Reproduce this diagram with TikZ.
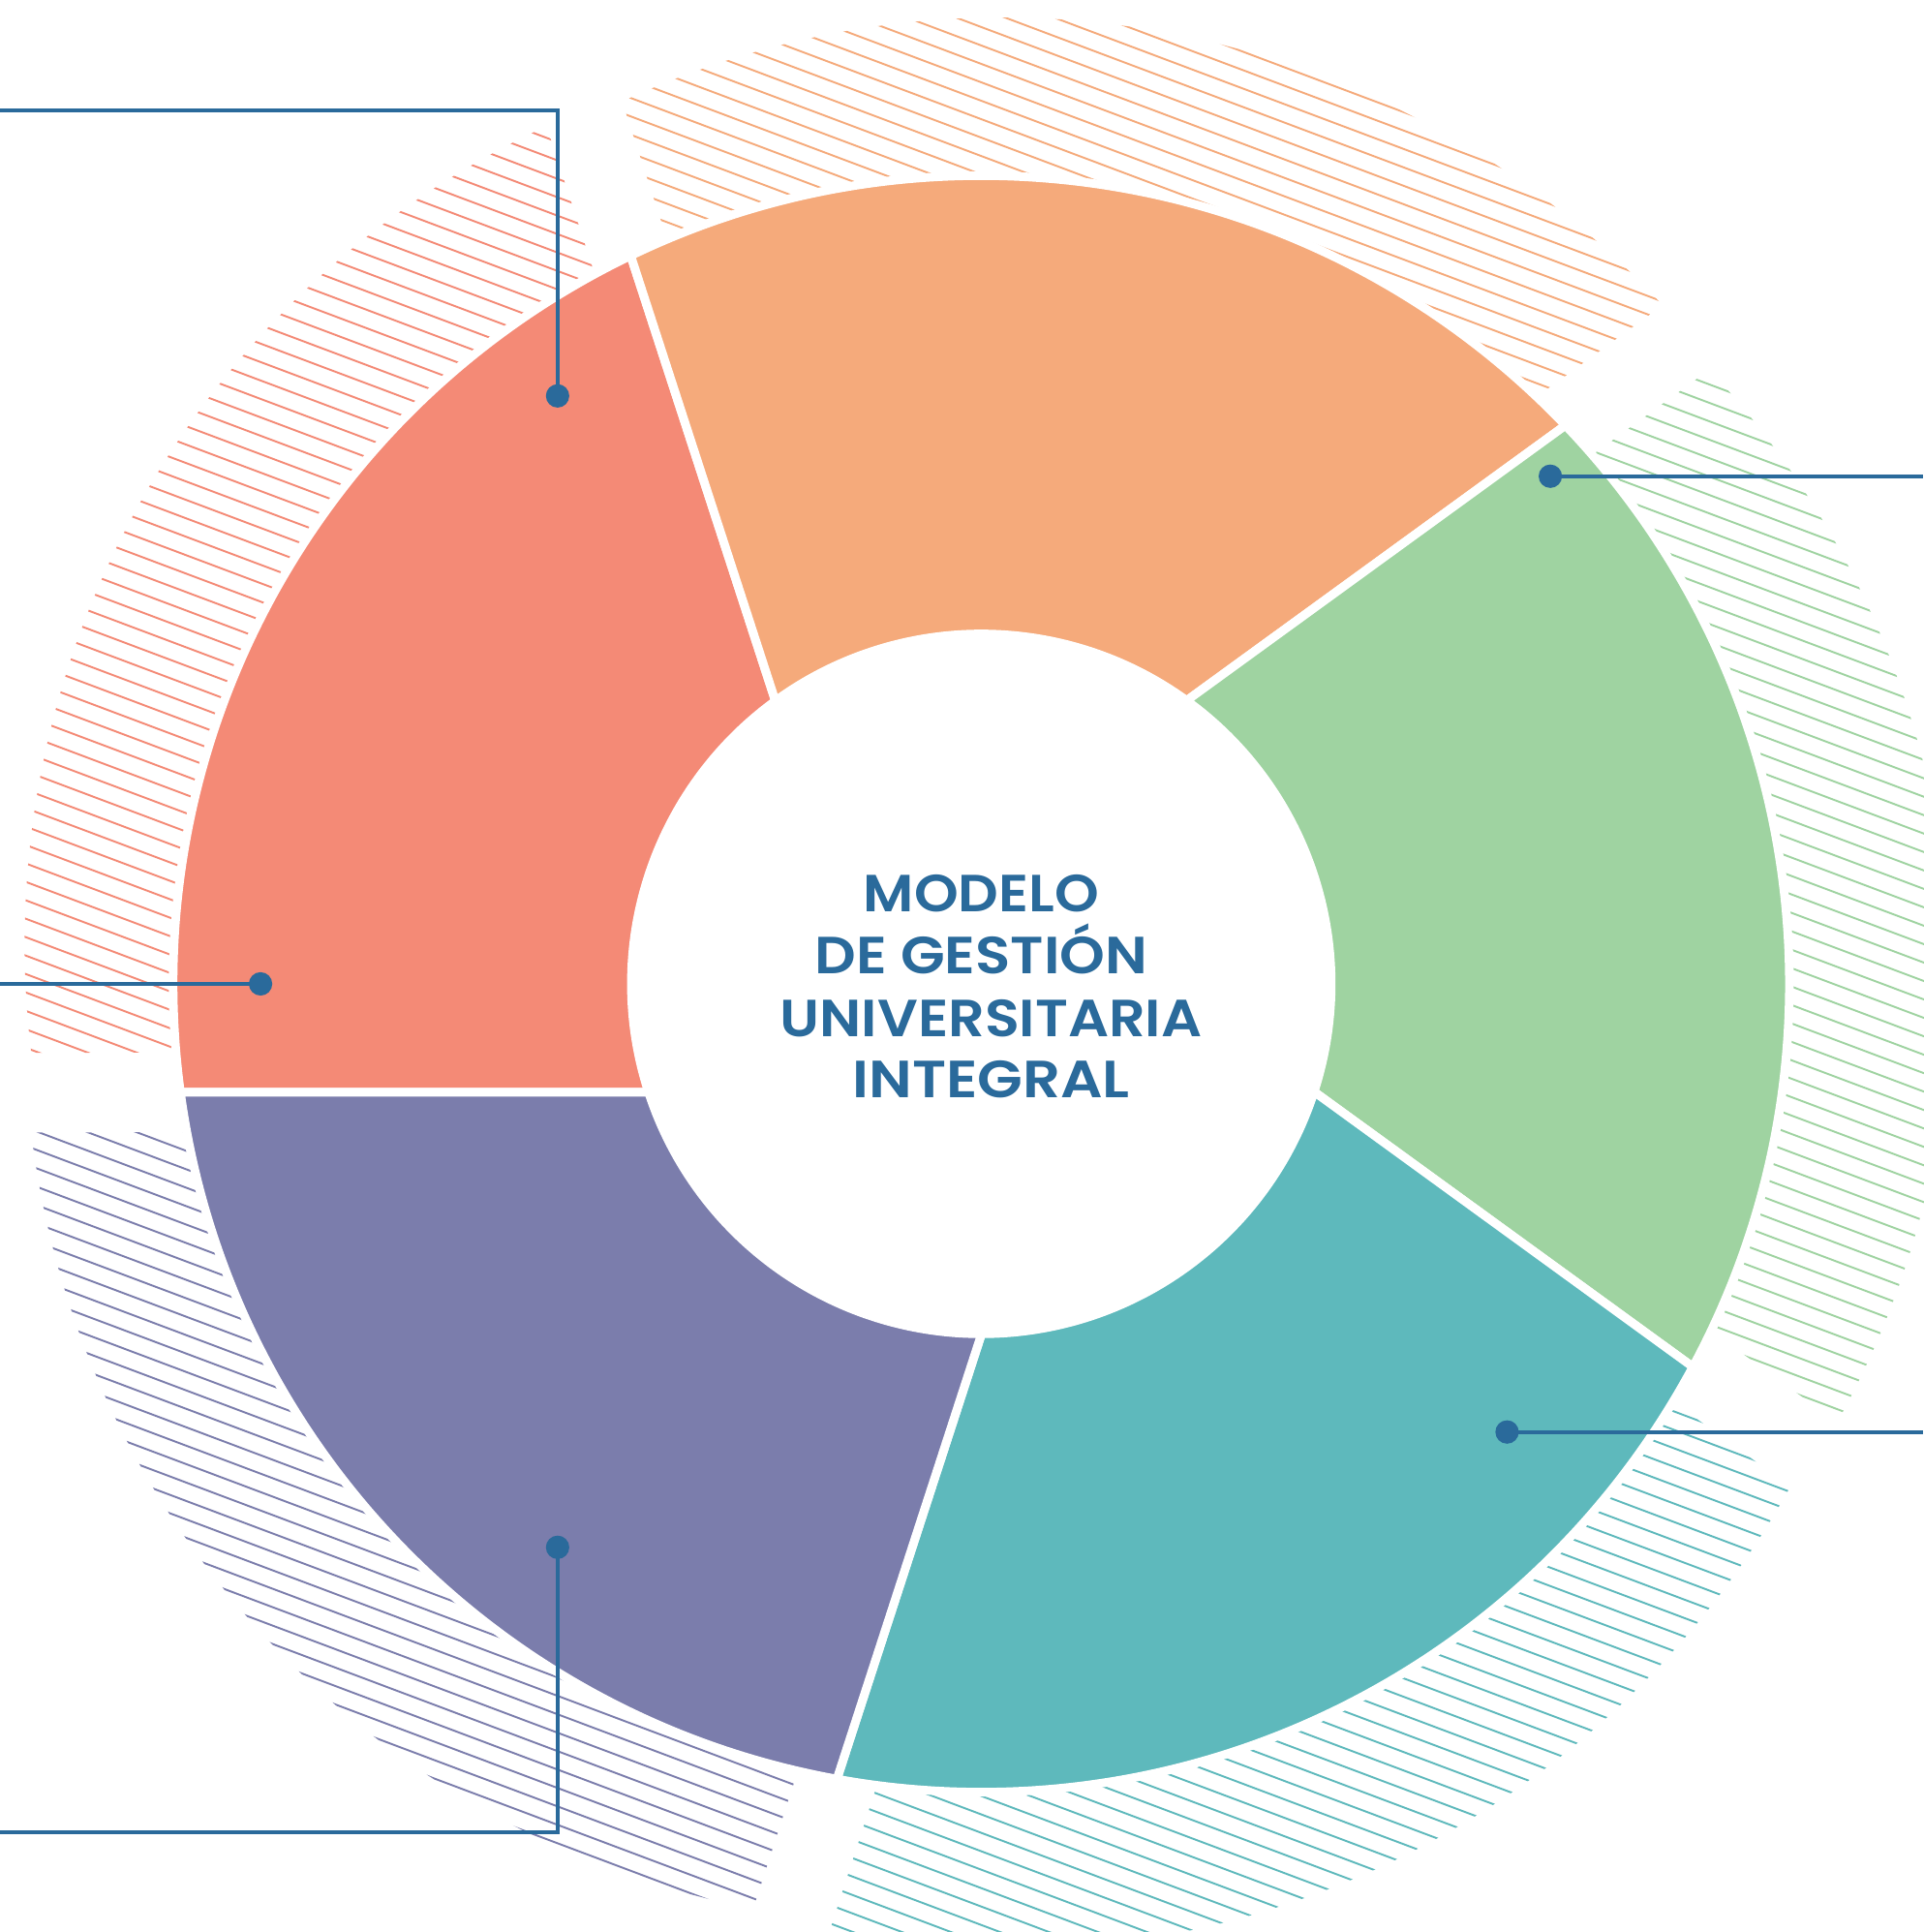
\documentclass[tikz,border=0pt]{standalone}
\usepackage{fontspec}
\setmainfont{Poppins}
\newfontfamily\titlefont{Poppins}[UprightFont={* SemiBold}]
\usepackage{graphicx}
\definecolor{cSalmon}{HTML}{F48A76}
\definecolor{cPeach}{HTML}{F5AA7B}
\definecolor{cGreen}{HTML}{9FD3A1}
\definecolor{cTeal}{HTML}{5EB9BC}
\definecolor{cPurple}{HTML}{7B7DAC}
\definecolor{cBlue}{HTML}{2A6A9B}
\tikzset{
  segshape/.style={draw=white, line width=0.7mm},
  hatchln/.style={line width=0.15mm},
  conn/.style={draw=cBlue, line width=0.3mm},
  dotnode/.style={circle, fill=cBlue, inner sep=0pt, minimum size=1.9mm},
  lbl/.style={anchor=base, inner sep=0pt, text=cBlue, font=\titlefont},
}
% hatch region of the sector whose counter-clockwise edge points at angle #1
\newcommand\hatchsector[2]{%
  \begin{scope}[shift={({#1-36}:55)}]
    \clip ({#1+6.92}:732) arc[start angle={#1+6.92}, end angle={#1-65.08}, radius=732]
      -- ({#1-59.29}:400) arc[start angle={#1-59.29}, end angle={#1+12.71}, radius=400] -- cycle;
    \begin{scope}[rotate=-20.6]
      \foreach \n in {-56,...,56} \draw[hatchln, draw=#2] (-780,{\n*14}) -- (780,{\n*14});
    \end{scope}
  \end{scope}}
% donut sector between the edge at angle #1 and the edge at angle #1-72
\newcommand\donutsector[2]{%
  \path[segshape, fill=#2] ({#1+7.71}:656) arc[start angle={#1+7.71}, end angle={#1-64.29}, radius=656]
    -- ({#1-53.95}:284) arc[start angle={#1-53.95}, end angle={#1+18.05}, radius=284] -- cycle;}
\begin{document}
\begin{tikzpicture}[x=0.1mm, y=0.1mm]
\useasboundingbox (-796.5,-769.5) rectangle (764.5,798.5);
\fill[white] (-796.5,-769.5) rectangle (764.5,798.5);
% hatching
\hatchsector{180}{cSalmon}
\hatchsector{108}{cPeach}
\hatchsector{36}{cGreen}
\hatchsector{-36}{cTeal}
\hatchsector{-108}{cPurple}
% donut
\donutsector{180}{cSalmon}
\donutsector{108}{cPeach}
\donutsector{36}{cGreen}
\donutsector{-36}{cTeal}
\donutsector{-108}{cPurple}
% connector ends
\coordinate (c1) at (-796.5,709);
\coordinate (c2) at (-796.5,0);
\coordinate (c3) at (764.5,412);
\coordinate (c4) at (764.5,-363.7);
\coordinate (c5) at (-796.5,-688.8);
\coordinate (d1) at (-343.9,477.2);
\coordinate (d2) at (-585,0);
\coordinate (d3) at (461.9,412);
\coordinate (d4) at (426.8,-363.7);
\coordinate (d5) at (-343.9,-457.3);
\draw[conn] (c1) -| (d1);
\draw[conn] (c2) -- (d2);
\draw[conn] (d3) -- (c3);
\draw[conn] (d4) -- (c4);
\draw[conn] (d5) |- (c5);
\node[dotnode] (p1) at (d1) {};
\node[dotnode] (p2) at (d2) {};
\node[dotnode] (p3) at (d3) {};
\node[dotnode] (p4) at (d4) {};
\node[dotnode] (p5) at (d5) {};
% title
\node[lbl] (t1) at (0,58.4) {\resizebox{19.1mm}{3.0mm}{MODELO}};
\node[lbl] (t2) at (0,8.5) {\resizebox{27.0mm}{3.0mm}{DE GESTI\smash{Ó}N}};
\node[lbl] (t3) at (8,-42.5) {\resizebox{34.24mm}{3.0mm}{UNIVERSITARIA}};
\node[lbl] (t4) at (8,-92.3) {\resizebox{22.5mm}{3.0mm}{INTEGRAL}};
\end{tikzpicture}
\end{document}
